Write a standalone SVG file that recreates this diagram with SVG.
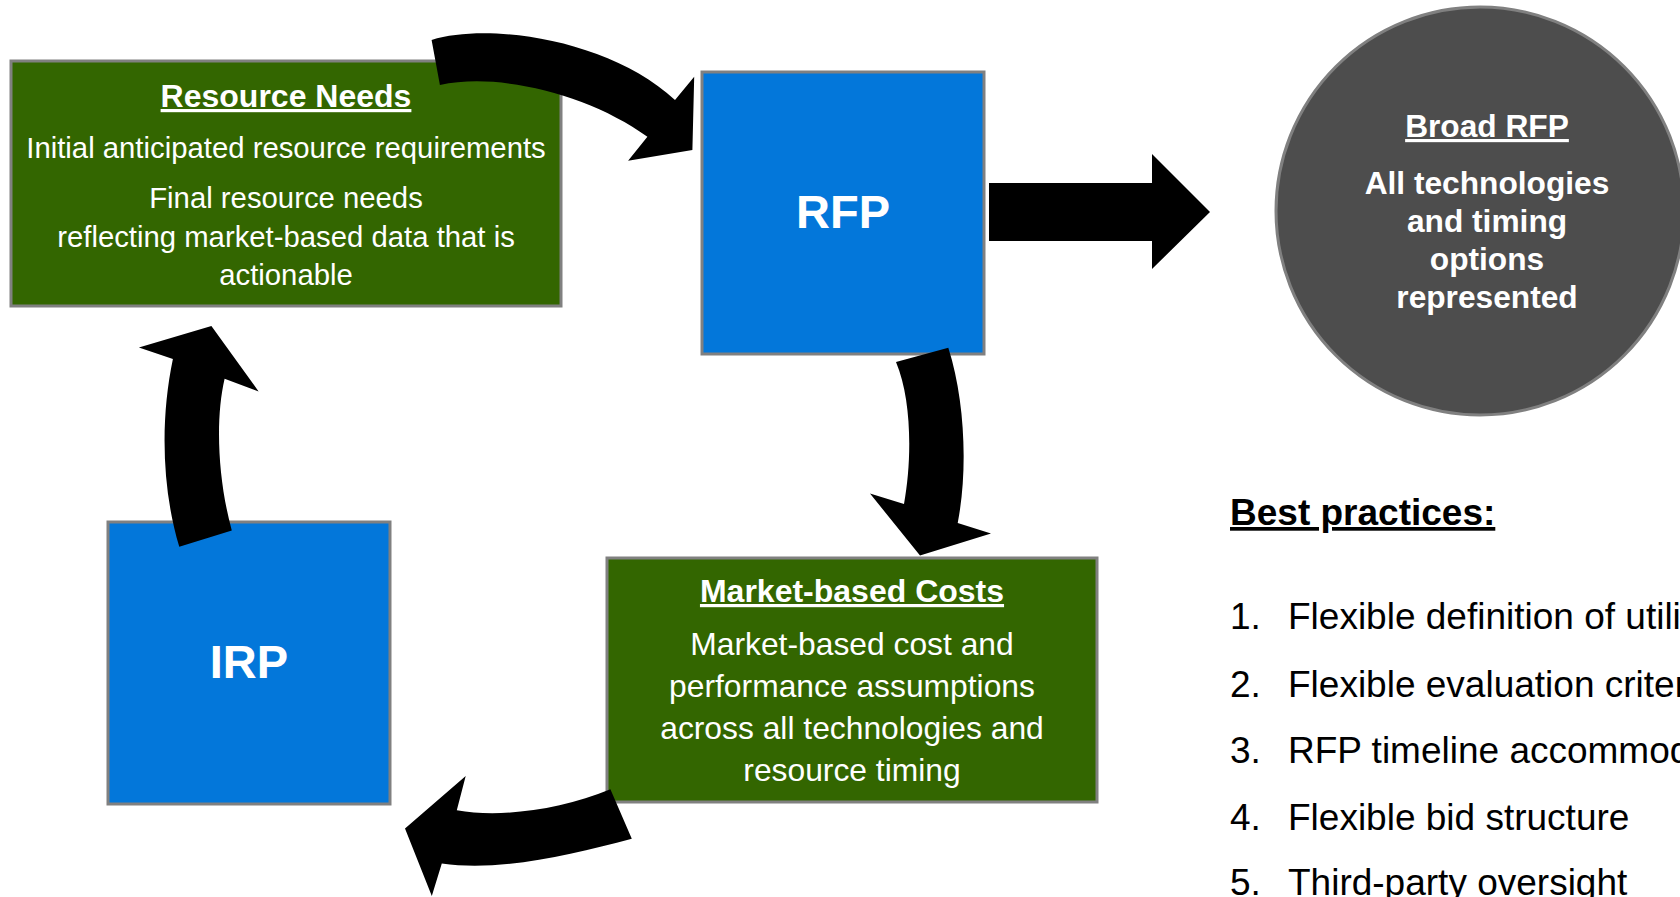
<svg xmlns="http://www.w3.org/2000/svg" width="1680" height="897" viewBox="0 0 1680 897">
<style>
.box{stroke:#808080;stroke-width:3}
.green{fill:#336600}
.blue{fill:#0377DA}
.t{font-family:"Liberation Sans",Arial,sans-serif;fill:#ffffff;text-anchor:middle}
.b{font-weight:bold}
.u{text-decoration:underline}
.arrow{fill:#000000}
.list{font-family:"Liberation Sans",Arial,sans-serif;fill:#000000;font-size:37px}
</style>
<rect width="1680" height="897" fill="#ffffff"/>
<g id="resource-needs">
<rect class="box green" x="11" y="61" width="550" height="245"/>
<text class="t b u" x="286" y="107" font-size="32">Resource Needs</text>
<text class="t" x="286" y="158" font-size="29.3">Initial anticipated resource requirements</text>
<text class="t" x="286" y="208" font-size="29.3">Final resource needs</text>
<text class="t" x="286" y="247" font-size="29.3">reflecting market-based data that is</text>
<text class="t" x="286" y="285" font-size="29.3">actionable</text>
</g>
<g id="rfp">
<rect class="box blue" x="702" y="72" width="282" height="282"/>
<text class="t b" x="843" y="228" font-size="47">RFP</text>
</g>
<g id="broad-rfp">
<circle cx="1480" cy="211" r="204" fill="#4D4D4D" stroke="#808080" stroke-width="3"/>
<text class="t b u" x="1487" y="137" font-size="31.7">Broad RFP</text>
<text class="t b" x="1487" y="194" font-size="31.7">All technologies</text>
<text class="t b" x="1487" y="232" font-size="31.7">and timing</text>
<text class="t b" x="1487" y="270" font-size="31.7">options</text>
<text class="t b" x="1487" y="308" font-size="31.7">represented</text>
</g>
<g id="irp">
<rect class="box blue" x="108" y="522" width="282" height="282"/>
<text class="t b" x="249" y="678" font-size="47">IRP</text>
</g>
<g id="market-costs">
<rect class="box green" x="607" y="558" width="490" height="244"/>
<text class="t b u" x="852" y="602" font-size="32">Market-based Costs</text>
<text class="t" x="852" y="655" font-size="31.8">Market-based cost and</text>
<text class="t" x="852" y="697" font-size="31.8">performance assumptions</text>
<text class="t" x="852" y="739" font-size="31.8">across all technologies and</text>
<text class="t" x="852" y="781" font-size="31.8">resource timing</text>
</g>
<g id="best-practices">
<text class="list b u" x="1230" y="525" font-size="37">Best practices:</text>
<text class="list" x="1230" y="629">1.</text>
<text class="list" x="1288" y="629">Flexible definition of utili</text>
<text class="list" x="1230" y="697">2.</text>
<text class="list" x="1288" y="697">Flexible evaluation criter</text>
<text class="list" x="1230" y="763">3.</text>
<text class="list" x="1288" y="763">RFP timeline accommod</text>
<text class="list" x="1230" y="830">4.</text>
<text class="list" x="1288" y="830">Flexible bid structure</text>
<text class="list" x="1230" y="895">5.</text>
<text class="list" x="1288" y="895">Third-party oversight</text>
</g>
<g id="connectors">
<path class="arrow" d="M431.6 40 C490 22 610 40 675 100 L694.2 76.7 L692.4 150 L628.1 160.7 L647.4 136.7 C590 95 500 72 439.9 85 Z"/>
<polygon class="arrow" points="989,183 1152,183 1152,154 1210,212 1152,269 1152,241 989,241"/>
<path class="arrow" d="M896 362 L948.3 347.8 C965 400 968 470 957.7 523 L991 533.6 L920 555.6 L870 493.5 L904 504.1 C912 460 912 400 896 362 Z"/>
<path class="arrow" d="M610.4 789.3 L631.8 838.8 C570 855 500 872 441.8 863.6 L431.8 896 L405 828.6 L465.7 776 L456.8 810.3 C500 818 560 810 610.4 789.3 Z"/>
<path class="arrow" d="M179.3 546.8 L231.8 530.4 C218 480 215 420 224.6 378.8 L258.6 391.4 L211.4 325.9 L138.9 347.6 L172.9 359 C160 420 162 490 179.3 546.8 Z"/>
</g>
</svg>
